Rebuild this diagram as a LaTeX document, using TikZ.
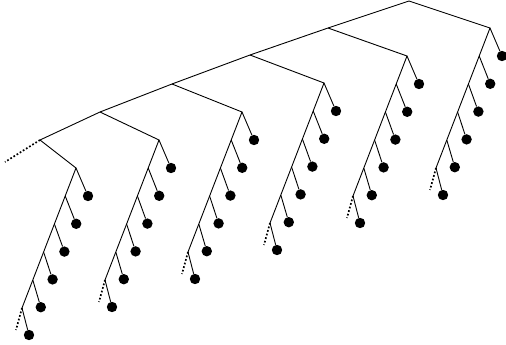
\documentclass[tikz,border=0pt]{standalone}
\begin{document}
\begin{tikzpicture}[x=1pt,y=-1pt,
  edge/.style={line width=0.9pt},
  tail/.style={dotted,line width=1.7pt},
  leaf/.style={circle,fill=black,inner sep=0pt,minimum size=10.4pt}]
\useasboundingbox (0,0) rectangle (506,345);
% spine
\coordinate (S0) at (409,1);
\coordinate (S1) at (328,28);
\coordinate (S2) at (250,55);
\coordinate (S3) at (172,84);
\coordinate (S4) at (100,112);
\coordinate (S5) at (40,140);
\coordinate (E) at (5,162);
\draw[edge] (S0) -- (S1) -- (S2) -- (S3) -- (S4) -- (S5);
\draw[tail] (S5) -- (E);
% chains
\foreach \i/\tx/\ty in {0/490/28,1/407/56,2/324/83,3/242/112,4/159/140,5/76/168} {
  \foreach \k in {0,...,5} {
    \coordinate (C\i-\k) at ({\tx-10.8*\k},{\ty+28*\k});
    \node[leaf] (L\i-\k) at ({\tx+12-11.8*\k},{\ty+28+27.8*\k}) {};
    \draw[edge] (C\i-\k) -- (L\i-\k);
  }
  \coordinate (D\i) at ({\tx-10.8*5-6},{\ty+140+22});
  \draw[edge] (S\i) -- (C\i-0) -- (C\i-1) -- (C\i-2) -- (C\i-3) -- (C\i-4) -- (C\i-5);
  \draw[tail] (C\i-5) -- (D\i);
}
\end{tikzpicture}
\end{document}
